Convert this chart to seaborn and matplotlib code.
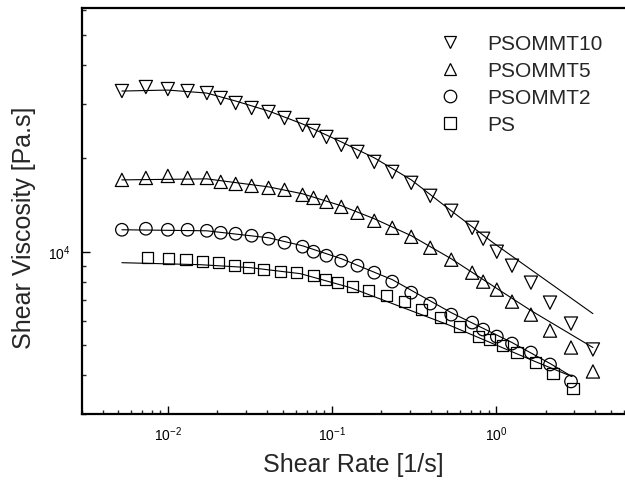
import matplotlib
matplotlib.use("Agg")
import matplotlib.pyplot as plt
from matplotlib.lines import Line2D
from matplotlib import ticker
import pandas as pd
import seaborn as sns

sns.set_style("ticks")
plt.rcParams["font.family"] = ["Liberation Sans", "DejaVu Sans"]
plt.rcParams["mathtext.fontset"] = "custom"
plt.rcParams["mathtext.rm"] = "Liberation Sans"
plt.rcParams["mathtext.it"] = "Liberation Sans:italic"
plt.rcParams["mathtext.bf"] = "Liberation Sans:bold"

# Measured shear rates [1/s] for the nanocomposites
rate_nc = [0.00525, 0.00735, 0.0100, 0.0132, 0.0173, 0.0210, 0.0259, 0.0324,
           0.0411, 0.0514, 0.0662, 0.0772, 0.0926, 0.114, 0.143, 0.181, 0.233,
           0.304, 0.397, 0.533, 0.715, 0.834, 1.01, 1.25, 1.63, 2.13, 2.86, 3.89]
# Measured shear rates [1/s] for neat PS
rate_ps = [0.00756, 0.0101, 0.0129, 0.0163, 0.0204, 0.0255, 0.0311, 0.0383,
           0.0486, 0.0608, 0.0772, 0.0913, 0.108, 0.133, 0.167, 0.215, 0.276,
           0.350, 0.457, 0.596, 0.777, 0.907, 1.09, 1.34, 1.73, 2.22, 2.94]

# Shear viscosity [Pa.s]
eta_psommt10 = [32940, 33930, 33430, 32940, 32450, 31280, 30140, 29040, 28200,
                26970, 25610, 24500, 23430, 22090, 20970, 19470, 18080, 16670,
                15140, 13550, 11940, 11010, 10000, 9016, 7950, 6855, 5868, 4842]
eta_psommt5 = [17040, 17290, 17550, 17290, 17290, 16790, 16540, 16300, 16060,
               15830, 15250, 14910, 14480, 13950, 13350, 12580, 11940, 11170,
               10300, 9425, 8560, 8010, 7547, 6906, 6270, 5570, 4913, 4113]
eta_psommt2 = [11770, 11860, 11770, 11770, 11680, 11510, 11430, 11260, 11010,
               10690, 10380, 10000, 9708, 9356, 9016, 8560, 8010, 7381, 6805,
               6270, 5911, 5612, 5329, 5060, 4733, 4332, 3820]
eta_ps = [9565, 9495, 9425, 9287, 9218, 9016, 8883, 8751, 8623, 8560, 8371,
          8128, 7950, 7717, 7490, 7218, 6906, 6508, 6135, 5741, 5329, 5212,
          4985, 4733, 4396, 4053, 3626]

# Model fit curves (rate, viscosity)
fit_rate_10 = [0.00525, 0.0100, 0.01726, 0.02591, 0.0411, 0.0662, 0.1142,
               0.1813, 0.3043, 0.5326, 0.959, 3.888]
fit_eta_10 = [32940, 33180, 32450, 30590, 28410, 25800, 22580, 20060, 17040,
              13550, 10690, 6318]
fit_rate_5 = [0.00525, 0.01726, 0.0411, 0.0662, 0.1142, 0.1813, 0.3043,
              0.5326, 1.014, 1.633, 3.888]
fit_eta_5 = [17040, 17170, 16180, 15370, 14060, 12770, 11260, 9495, 7604,
             6460, 4913]
fit_rate_2 = [0.00525, 0.01726, 0.0411, 0.0662, 0.1142, 0.2332, 0.5326,
              1.251, 2.130, 2.897]
fit_eta_2 = [11770, 11680, 11090, 10450, 9495, 8128, 6364, 5097, 4364, 3962]
fit_rate_ps = [0.00525, 0.01587, 0.03196, 0.0643, 0.1296, 0.5253, 1.726, 2.897]
fit_eta_ps = [9218, 9082, 8883, 8497, 7660, 5783, 4429, 3962]

labels = ["PSOMMT10", "PSOMMT5", "PSOMMT2", "PS"]
markers = ["v", "^", "o", "s"]
marker_sizes = [9.5, 9.5, 9.0, 8.0]

points = [(rate_nc, eta_psommt10), (rate_nc, eta_psommt5),
          (rate_nc[:len(eta_psommt2)], eta_psommt2), (rate_ps, eta_ps)]
fits = [(fit_rate_10, fit_eta_10), (fit_rate_5, fit_eta_5),
        (fit_rate_2, fit_eta_2), (fit_rate_ps, fit_eta_ps)]

fig = plt.figure(figsize=(6.25, 4.8), dpi=100)
ax = fig.add_axes([82 / 625, 66 / 480, 1 - 82 / 625, 406 / 480])

for (fx, fy) in fits:
    sns.lineplot(x=fx, y=fy, ax=ax, color="black", linewidth=0.8,
                 sort=False, estimator=None)

for (px, py), mk, ms in zip(points, markers, marker_sizes):
    df = pd.DataFrame({"rate": px, "eta": py})
    sns.scatterplot(data=df, x="rate", y="eta", ax=ax, marker=mk, s=ms ** 2,
                    color="black", facecolor="none", edgecolor="black",
                    linewidth=0.9, zorder=3)

ax.set_xscale("log")
ax.set_yscale("log")
ax.set_xlim(0.003, 6.1)
ax.set_ylim(3000, 61000)

ax.yaxis.set_major_locator(ticker.LogLocator(base=10))
ax.yaxis.set_minor_locator(ticker.LogLocator(base=10, subs=range(2, 10)))
ax.yaxis.set_minor_formatter(ticker.NullFormatter())
ax.xaxis.set_minor_formatter(ticker.NullFormatter())

for side in ["left", "bottom", "top"]:
    ax.spines[side].set_linewidth(1.6)
    ax.spines[side].set_color("black")
ax.spines["right"].set_visible(False)

ax.tick_params(which="major", direction="in", length=6, width=1.0,
               labelsize=10, colors="black", top=False, right=False, pad=8)
ax.tick_params(which="minor", direction="in", length=3, width=1.0,
               top=False, right=False)

ax.set_xlabel("Shear Rate [1/s]", fontsize=18, labelpad=7)
ax.set_ylabel("Shear Viscosity [Pa.s]", fontsize=18)
ax.yaxis.set_label_coords(-0.085, 0.458)

handles = [Line2D([], [], marker=mk, linestyle="none", markerfacecolor="none",
                  markeredgecolor="black", markeredgewidth=0.9, markersize=9)
           for mk in markers]
ax.legend(handles, labels, loc="upper right", bbox_to_anchor=(0.985, 0.97),
          frameon=False, fontsize=15, handlelength=1.5, handletextpad=1.0,
          labelspacing=0.38, borderaxespad=0.3)

fig.savefig("out.png", dpi=100)
